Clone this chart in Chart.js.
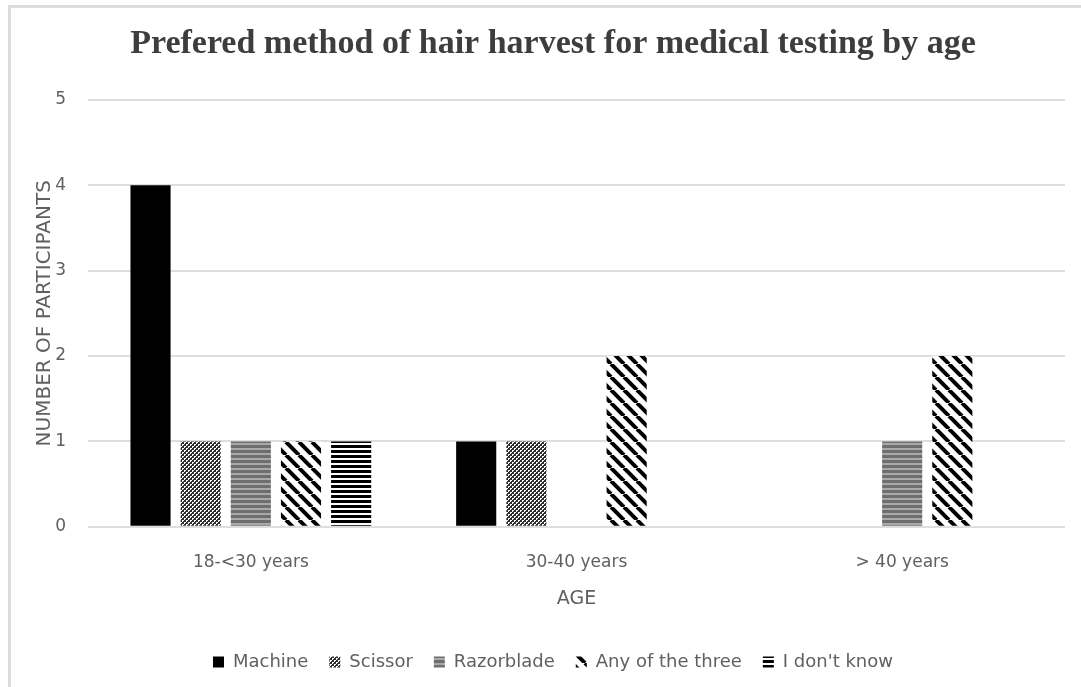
<!DOCTYPE html>
<html>
<head>
<meta charset="utf-8">
<script src="https://cdn.jsdelivr.net/npm/chart.js@4.4.1/dist/chart.umd.min.js"></script>
<style>
  html, body { margin: 0; padding: 0; background: #ffffff; }
  #wrap { position: relative; width: 1081px; height: 687px; overflow: hidden; }
  #frame { position: absolute; left: 8px; top: 5px; width: 1200px; height: 800px;
           border-left: 3px solid #dcdcdc; border-top: 3px solid #dcdcdc; box-sizing: border-box; }
  #chart { position: absolute; left: 0; top: 0; }
</style>
</head>
<body>
<div id="wrap">
  <div id="frame"></div>
  <canvas id="chart" width="1081" height="687"></canvas>
</div>
<script>
// Age groups on the x axis
const categories = ['18-<30 years', '30-40 years', '> 40 years'];

// Number of participants preferring each harvest method
const machine    = [4, 1, 0];
const scissor    = [1, 1, 0];
const razorblade = [1, 0, 1];
const anyOfThree = [1, 2, 2];
const dontKnow   = [1, 0, 0];

// Y axis range
const yMin = 0;
const yMax = 5;
const yStep = 1;

// ---- hatch fills drawn on small tiles ----
function tile(w, h, draw) {
  const c = document.createElement('canvas');
  c.width = w; c.height = h;
  const g = c.getContext('2d');
  draw(g, w, h);
  return document.getElementById('chart').getContext('2d').createPattern(c, 'repeat');
}

const fillMachine = '#000000';

const fillScissor = tile(4, 4, (g, w, h) => {
  g.fillStyle = '#ffffff'; g.fillRect(0, 0, w, h);
  g.fillStyle = '#2e2e2e';
  for (let y = 0; y < h; y++) {
    for (let x = 0; x < w; x++) {
      if ((x + y) % 4 === 0 || (x - y + 8) % 4 === 0 || (x + y) % 4 === 1) g.fillRect(x, y, 1, 1);
    }
  }
});

const fillRazor = tile(1, 5, (g) => {
  g.fillStyle = '#a9a9a9'; g.fillRect(0, 0, 1, 5);
  g.fillStyle = '#6e6e6e'; g.fillRect(0, 0, 1, 3);
});

const fillAny = tile(13, 13, (g, w, h) => {
  g.fillStyle = '#ffffff'; g.fillRect(0, 0, w, h);
  g.strokeStyle = '#000000'; g.lineWidth = 4;
  for (const off of [-w, 0, w]) {
    g.beginPath(); g.moveTo(off, 0); g.lineTo(off + w, h); g.stroke();
  }
});

const fillDontKnow = tile(1, 5, (g) => {
  g.fillStyle = '#ffffff'; g.fillRect(0, 0, 1, 5);
  g.fillStyle = '#000000'; g.fillRect(0, 0, 1, 3);
});

const sans = "'DejaVu Sans', Verdana, sans-serif";
const grey = '#606060';

new Chart(document.getElementById('chart'), {
  type: 'bar',
  data: {
    labels: categories,
    datasets: [
      { label: 'Machine',          data: machine,    backgroundColor: fillMachine },
      { label: 'Scissor',          data: scissor,    backgroundColor: fillScissor },
      { label: 'Razorblade',       data: razorblade, backgroundColor: fillRazor },
      { label: 'Any of the three', data: anyOfThree, backgroundColor: fillAny },
      { label: "I don't know",     data: dontKnow,   backgroundColor: fillDontKnow }
    ]
  },
  options: {
    responsive: false,
    animation: false,
    devicePixelRatio: 1,
    datasets: { bar: { categoryPercentage: 0.77, barPercentage: 0.8, borderWidth: 0 } },
    layout: { padding: { left: 41, right: 16, top: 0, bottom: 6 } },
    plugins: {
      title: {
        display: true,
        text: 'Prefered method of hair harvest for medical testing by age',
        color: '#3d3d3d',
        font: { family: "'Liberation Serif', 'Times New Roman', serif", size: 34, weight: 'bold' },
        padding: { top: 24, bottom: 35 }
      },
      legend: {
        position: 'bottom',
        labels: {
          color: grey,
          font: { family: sans, size: 18 },
          boxWidth: 11,
          boxHeight: 11,
          padding: 21
        }
      },
      tooltip: { enabled: false }
    },
    scales: {
      x: {
        grid: { display: false, drawTicks: false },
        border: { display: false },
        ticks: { color: grey, font: { family: sans, size: 17 }, padding: 26 },
        title: {
          display: true, text: 'AGE', color: grey,
          font: { family: sans, size: 19 }, padding: { top: -12, bottom: 22 }
        }
      },
      y: {
        min: yMin, max: yMax,
        afterFit: (scale) => { scale.width = 47; },
        grid: { color: '#dedede', lineWidth: 2, drawTicks: false },
        border: { display: false },
        ticks: { stepSize: yStep, color: grey, font: { family: sans, size: 17 }, padding: 22 },
        title: {
          display: true, text: 'NUMBER OF PARTICIPANTS', color: grey,
          font: { family: sans, size: 20 }, padding: { top: -8, bottom: 0 }
        }
      }
    }
  }
});
</script>
</body>
</html>
